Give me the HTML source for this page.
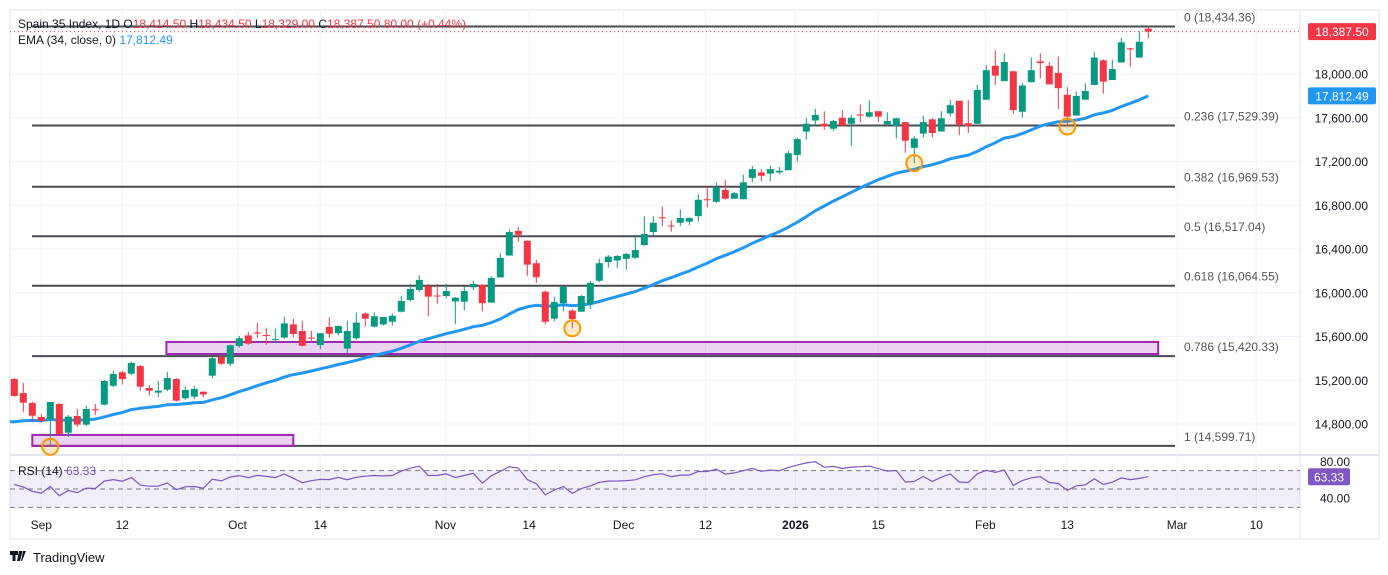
<!DOCTYPE html>
<html><head><meta charset="utf-8"><style>
html,body{margin:0;padding:0;background:#fff;}
svg{display:block;font-family:"Liberation Sans",sans-serif;}
</style></head><body>
<svg id="chart" width="1388" height="575" viewBox="0 0 1388 575">
<rect x="0" y="0" width="1388" height="575" fill="#fff"/>
<rect x="10" y="10" width="1369" height="529" fill="none" stroke="#e0e3eb" stroke-width="1"/>
<line x1="1300" y1="10" x2="1300" y2="539" stroke="#e0e3eb"/>
<line x1="10" y1="455" x2="1379" y2="455" stroke="#e0e3eb" stroke-width="2"/>
<g id="grid"></g>
<g id="rsi"></g>
<g id="fib"></g>
<g id="boxes"></g>
<g id="ema"></g>
<g id="candles"></g>
<g id="circles"></g>
<g id="axis"></g>
<g font-size="12">
<text x="18" y="28" fill="#131722">Spain 35 Index, 1D <tspan fill="#131722">O</tspan><tspan fill="#f23645">18,414.50</tspan> <tspan fill="#131722">H</tspan><tspan fill="#f23645">18,434.50</tspan> <tspan fill="#131722">L</tspan><tspan fill="#f23645">18,329.00</tspan> <tspan fill="#131722">C</tspan><tspan fill="#f23645">18,387.50 80.00 (+0.44%)</tspan></text>
<text x="18" y="44" fill="#131722">EMA (34, close, 0) <tspan fill="#2196f3">17,812.49</tspan></text>
<text x="18" y="475" fill="#131722">RSI (14) <tspan fill="#7e57c2">63.33</tspan></text>
</g>
<g>
<path d="M10 551h8v4h-2.5v6h-3v-6H10zM19 551h3.5l-2.5 10h-3z M23 551l3 0-4 10h-1z" fill="#131722"/>
<text x="33" y="562" font-size="13" fill="#131722">TradingView</text>
</g>
</svg>
<script>
const opens=[15211,15083,14992,14864,14843,14983,14720,14873,14794,14935,14977,15150,15273,15260,15330,15129,15087,15114,15211,15035,15050,15095,15242,15415,15351,15513,15610,15637,15614,15567,15590,15711,15650,15590,15522,15687,15630,15490,15584,15809,15690,15710,15735,15827,15934,16025,16060,15975,15970,15920,15918,16050,16070,15910,16140,16340,16565,16475,16270,16010,15763,15905,15837,15827,15895,16110,16280,16295,16310,16320,16435,16555,16690,16615,16640,16650,16700,16855,16832,16940,16860,16855,17050,17100,17090,17100,17120,17260,17473,17575,17545,17500,17600,17545,17630,17610,17660,17540,17525,17560,17325,17455,17585,17475,17640,17755,17550,17545,17765,18075,17935,18025,17655,17925,18115,18075,18010,17810,17620,17765,17900,18125,17945,18105,18235,18150,18414.5];
const highs=[15220,15174,15004,14890,15001,14990,14882,14937,14967,14983,15202,15285,15285,15367,15340,15156,15193,15275,15220,15140,15150,15100,15413,15420,15525,15605,15644,15727,15680,15672,15780,15765,15745,15650,15630,15775,15700,15745,15820,15820,15820,15780,15810,15970,16080,16160,16080,16080,16080,15960,16060,16110,16080,16150,16360,16580,16600,16480,16300,16020,15965,16055,15850,15980,16110,16310,16345,16345,16365,16530,16700,16700,16790,16660,16760,16690,16900,16970,17010,17030,16920,17080,17160,17130,17160,17150,17300,17420,17600,17680,17660,17580,17670,17625,17720,17760,17660,17650,17600,17560,17430,17620,17600,17660,17760,17755,17760,17900,18080,18215,18190,18025,17920,18150,18190,18110,18160,17880,17840,17915,18200,18135,18130,18330,18240,18390,18434.5];
const lows=[15050,14910,14828,14810,14592,14705,14684,14775,14780,14882,14970,15140,15160,15250,15105,15059,15047,15100,15005,15020,15030,15047,15220,15340,15330,15500,15525,15590,15525,15540,15580,15590,15510,15545,15486,15590,15610,15450,15570,15690,15680,15700,15700,15820,15920,16010,15785,15900,15950,15713,15840,16025,15830,15910,16140,16340,16465,16155,16090,15710,15740,15830,15675,15825,15850,16095,16230,16225,16210,16310,16430,16520,16610,16560,16610,16620,16650,16780,16820,16850,16860,16855,17010,17020,17020,17080,17120,17200,17400,17520,17490,17480,17520,17345,17560,17600,17560,17520,17410,17280,17185,17420,17420,17470,17610,17440,17460,17545,17765,17900,17935,17635,17600,17925,17960,17905,17680,17520,17620,17765,17900,17820,17945,18105,18065,18150,18329];
const closes=[15056,14995,14876,14828,15001,14709,14867,14794,14937,14925,15193,15257,15211,15358,15141,15105,15105,15220,15013,15111,15120,15070,15401,15351,15520,15584,15534,15627,15605,15576,15720,15623,15515,15584,15630,15625,15696,15650,15727,15763,15785,15778,15790,15925,16034,16117,15965,15968,16015,15955,16015,16080,15905,16135,16318,16555,16530,16257,16142,15735,15915,16055,15760,15970,16090,16270,16330,16336,16355,16390,16537,16640,16683,16610,16683,16683,16850,16850,16965,16860,16910,17010,17130,17070,17130,17115,17275,17405,17545,17625,17520,17570,17530,17600,17620,17650,17610,17570,17595,17390,17410,17560,17460,17595,17715,17535,17525,17855,18035,17985,18110,17670,17895,18035,18100,17905,17870,17610,17800,17845,18150,17930,18045,18290,18225,18295,18387.5];
const emaSeed=14820;
const priceTicks=[14800,15200,15600,16000,16400,16800,17200,17600,18000];
const fibLevels=[18434.36,17529.39,16969.53,16517.04,16064.55,15420.33,14599.71];
const fibLabels=["0 (18,434.36)","0.236 (17,529.39)","0.382 (16,969.53)","0.5 (16,517.04)","0.618 (16,064.55)","0.786 (15,420.33)","1 (14,599.71)"];
const timeLabels=["Sep","12","Oct","14","Nov","14","Dec","12","2026","15","Feb","13","Mar","10"];
const timeIdx=[3,12,24.8,34,47.9,57.2,67.7,76.8,86.8,96,107.9,117,129.2,138];
const markerIdx=[4,62,100,117];
const markerPrice=[14592,15675,17185,17520];
const NS="http://www.w3.org/2000/svg";
function X(i){return 14.3+9*i;}
function Y(p){return 74+(18000-p)*0.109375;}
function RY(v){return 489-(v-50)*0.9167;}
function el(tag,attrs,parent){const e=document.createElementNS(NS,tag);for(const k in attrs)e.setAttribute(k,attrs[k]);parent.appendChild(e);return e;}
const grid=document.getElementById('grid'),axis=document.getElementById('axis');
priceTicks.forEach(p=>{
 const l=el('line',{x1:10,x2:1300,y1:Y(p),y2:Y(p),stroke:'#f0f3fa'},grid);
 
 
 const t=el('text',{x:1368,y:Y(p)+4.5,'text-anchor':'end','font-size':'12',fill:'#131722'},axis);
 t.textContent=p.toLocaleString('en-US',{minimumFractionDigits:2});
 
 
});
[80,40].forEach(v=>{
 const t=el('text',{x:1350,y:RY(v)+4.5,'text-anchor':'end','font-size':'12',fill:'#131722'},axis);
 t.textContent=v.toFixed(2);
 
 
});
timeLabels.forEach((s,k)=>{
 const x=X(timeIdx[k]);
 const l=el('line',{x1:x,x2:x,y1:10,y2:512,stroke:'#f0f3fa'},grid);
 
 
 const t=el('text',{x:x,y:529,'text-anchor':'middle','font-size':'12',fill:'#131722','font-weight':s==='2026'?'bold':'normal'},axis);
 t.textContent=s;
 
 
});
// RSI pane
const rsiG=document.getElementById('rsi');
const band=el('rect',{x:10,y:RY(70),width:1290,height:RY(30)-RY(70),fill:'#7e57c2','fill-opacity':'0.1'},rsiG);


[70,50,30].forEach(v=>{
 const l=el('line',{x1:10,x2:1300,y1:RY(v),y2:RY(v),stroke:'#787b86','stroke-dasharray':'5,4'},rsiG);
 
 
});
let ag=55,al=42,prev=15100,rpts=[],rsiVals=[];
closes.forEach((c,i)=>{const d=c-prev;prev=c;ag=(ag*13+Math.max(d,0))/14;al=(al*13+Math.max(-d,0))/14;const r=100-100/(1+ag/al);rsiVals.push(r);rpts.push(X(i).toFixed(1)+','+RY(r).toFixed(1));});
const rl=el('polyline',{points:rpts.join(' '),fill:'none',stroke:'#7e57c2','stroke-width':'1.2'},rsiG);


// fib
const fib=document.getElementById('fib');
fibLevels.forEach((p,k)=>{
 const l=el('line',{x1:32,x2:1175,y1:Y(p),y2:Y(p),stroke:'#4a4b52','stroke-width':'2'},fib);
 
 
 const t=el('text',{x:1184,y:Y(p)-5,'font-size':'12',fill:'#555'},fib);
 t.textContent=fibLabels[k];
 
 
});
// boxes
const boxes=document.getElementById('boxes');
const zoneTop=[15550,14700],zoneBot=[15440,14600],zoneStart=[16.9,2],zoneEnd=[127.1,31];
zoneTop.forEach((p,k)=>{
 const r=el('rect',{x:X(zoneStart[k]),y:Y(p),width:X(zoneEnd[k])-X(zoneStart[k]),height:Y(zoneBot[k])-Y(p),fill:'#9c27b0','fill-opacity':'0.2',stroke:'#9c27b0','stroke-width':'2'},boxes);
 
 
});
// EMA
const emaG=document.getElementById('ema');
let e=emaSeed,pts=[];const a=2/35;
closes.forEach((c,i)=>{if(i>0)e=c*a+e*(1-a);pts.push(X(i).toFixed(1)+','+Y(e).toFixed(1));});
const startPt='10,'+Y(emaSeed).toFixed(1);
const em=el('polyline',{points:startPt+' '+pts.join(' '),fill:'none',stroke:'#2196f3','stroke-width':'3','stroke-linejoin':'round'},emaG);


// candles
const cg=document.getElementById('candles');
closes.forEach((c,i)=>{
 const o=opens[i],up=c>=o,col=up?'#089981':'#f23645',x=X(i);
 const w=el('line',{x1:x,x2:x,y1:Y(highs[i]),y2:Y(lows[i]),stroke:col,'stroke-width':'1'},cg);
 
 
 const top=Y(Math.max(o,c)),h=Math.max(1,Y(Math.min(o,c))-top);
 const b=el('rect',{x:x-3.5,y:top,width:7,height:h,fill:col},cg);
 
 
});
// circles
const circ=document.getElementById('circles');
markerIdx.forEach((idx,k)=>{
 const c=el('circle',{cx:X(idx),cy:Y(markerPrice[k]),r:8,fill:'#ff9800','fill-opacity':'0.2',stroke:'#ff9800','stroke-width':'2'},circ);
 
 
});
// last price line & labels
const last=closes[closes.length-1];
const dl=el('line',{x1:10,x2:1300,y1:Y(last),y2:Y(last),stroke:'#f23645','stroke-dasharray':'1,3'},axis);


function badge(yc,txt,col,name,x0,wd){
 const r=el('rect',{x:x0,y:yc-8.5,width:wd,height:17,fill:col,rx:2},axis);
 
 
 const t=el('text',{x:x0+wd/2,y:yc+4.5,'text-anchor':'middle','font-size':'12',fill:'#fff'},axis);
 t.textContent=txt;
 
 
}
badge(Y(last),'18,387.50','#f23645','last-price-label',1308,68);
badge(Y(e),'17,812.49','#2196f3','ema-price-label',1308,68);
badge(RY(63.33),'63.33','#7e57c2','rsi-value-label',1308,42);
</script>
</body></html>
